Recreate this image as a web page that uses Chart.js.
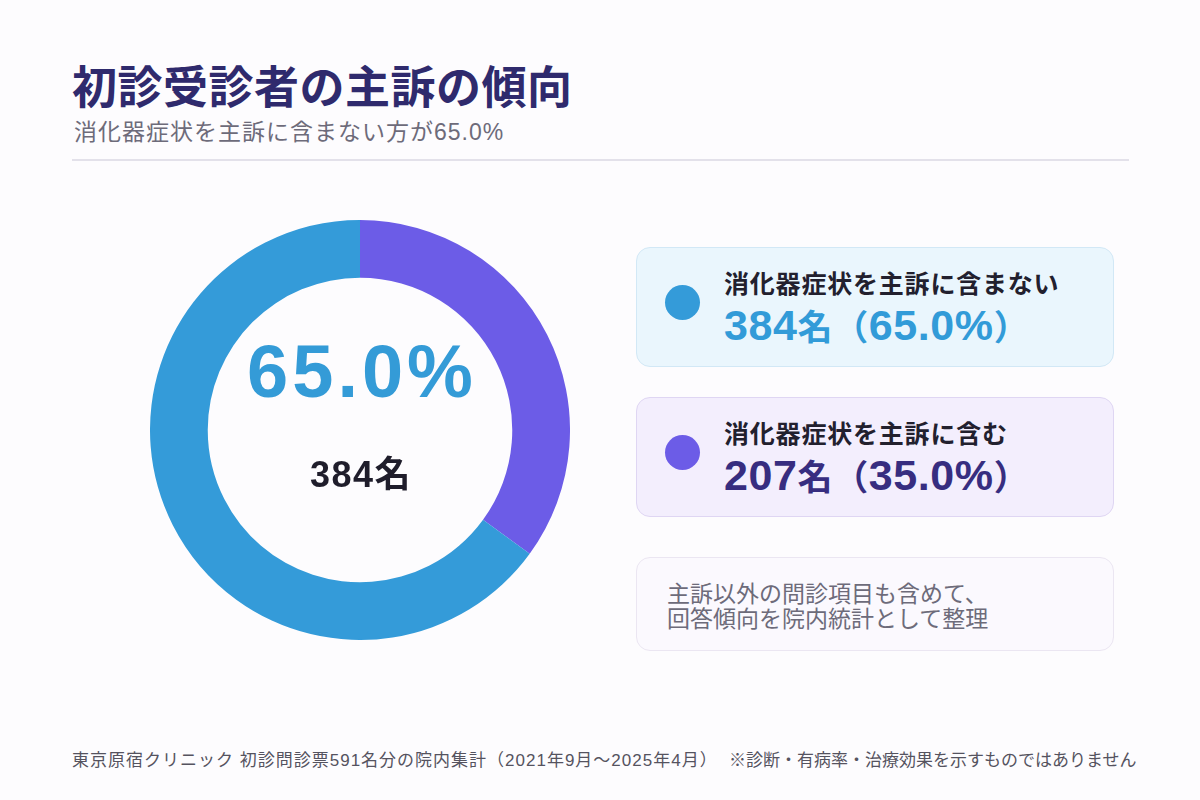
<!DOCTYPE html>
<html lang="ja">
<head>
<meta charset="utf-8">
<script src="https://cdn.jsdelivr.net/npm/chart.js@4"></script>
<style>
  html, body { margin:0; padding:0; }
  body { width:1200px; height:800px; position:relative; overflow:hidden;
    background:#fdfcfe; font-family:"Noto Sans CJK JP","Noto Sans",sans-serif; }
  .title { position:absolute; left:72px; top:52px; font-size:45px; font-weight:700; color:#2f2a6d; letter-spacing:0.5px; }
  .sub { position:absolute; left:74px; top:115px; font-size:23px; line-height:34px; color:#6d6b7a; letter-spacing:1px;
    font-family:"Liberation Sans","Noto Sans CJK JP",sans-serif; }
  .rule { position:absolute; left:72px; top:159px; width:1057px; height:2px; background:#e3e1ea; }
  .chartbox { position:absolute; left:150px; top:220px; width:420px; height:420px; }
  .center1 { position:absolute; left:150px; width:424px; top:327px; line-height:90px; text-align:center;
    font-family:"Liberation Sans",sans-serif; font-size:74px; font-weight:700; color:#349bd7; letter-spacing:4px; }
  .center2 { position:absolute; left:150px; width:422px; top:453px; line-height:44px; text-align:center;
    font-family:"Liberation Sans","Noto Sans CJK JP",sans-serif; font-size:36px; font-weight:700; color:#1f1d2b; letter-spacing:1.5px; }
  .card { position:absolute; left:636px; width:478px; border-radius:14px; box-sizing:border-box; }
  .dot { position:absolute; left:28px; top:37px; width:35px; height:35px; border-radius:50%; }
  .lab { position:absolute; left:87px; top:19px; line-height:30px; font-size:25px; font-weight:700; color:#22202e; letter-spacing:0.8px; }
  .val { position:absolute; left:87px; top:55px; line-height:44px; white-space:nowrap; letter-spacing:0.6px;
    font-family:"Liberation Sans","Noto Sans CJK JP",sans-serif; font-size:43px; font-weight:700; }
  .val span { font-family:"Noto Sans CJK JP",sans-serif; font-size:35px; }
  .note { position:absolute; left:30px; font-size:23px; line-height:25px; color:#6d6b7a; white-space:nowrap; }
  .foot { position:absolute; top:750px; font-size:17px; line-height:22px; color:#55535f;
    font-family:"Liberation Sans","Noto Sans CJK JP",sans-serif; white-space:nowrap; }
</style>
</head>
<body>
<div class="title">初診受診者の主訴の傾向</div>
<div class="sub">消化器症状を主訴に含まない方が65.0%</div>
<div class="rule"></div>

<div class="chartbox"><canvas id="donut" width="420" height="420"></canvas></div>
<div class="center1" id="c1"></div>
<div class="center2" id="c2"></div>

<div class="card" style="top:247px;height:120px;background:#eaf6fd;border:1px solid #d2e8f6;">
  <div class="dot" id="d0"></div>
  <div class="lab" id="l0"></div>
  <div class="val" id="v0" style="color:#329bd8;"></div>
</div>
<div class="card" style="top:397px;height:120px;background:#f3eefd;border:1px solid #dfd6f3;">
  <div class="dot" id="d1"></div>
  <div class="lab" id="l1"></div>
  <div class="val" id="v1" style="color:#372d80;"></div>
</div>
<div class="card" style="top:557px;height:94px;background:#fbf9fe;border:1px solid #ebe6f2;">
  <div class="note" style="top:22px;">主訴以外の問診項目も含めて、</div>
  <div class="note" style="top:47px;">回答傾向を院内統計として整理</div>
</div>

<div class="foot" style="left:72px;letter-spacing:1px;">東京原宿クリニック 初診問診票591名分の院内集計（2021年9月〜2025年4月）</div>
<div class="foot" style="left:729px;">※診断・有病率・治療効果を示すものではありません</div>

<script>
// data: purple first so it starts at 12 o'clock
const labels = ['消化器症状を主訴に含む', '消化器症状を主訴に含まない']
const counts = [207, 384]
const percents = [35.0, 65.0]
const colors = ['#6c5ce7', '#349bd9']

new Chart(document.getElementById('donut').getContext('2d'), {
  type: 'doughnut',
  data: {
    labels: labels,
    datasets: [{
      data: counts,
      backgroundColor: colors,
      borderWidth: 0,
      hoverOffset: 0
    }]
  },
  options: {
    responsive: false,
    animation: false,
    cutout: '72.5%',
    rotation: 0,
    layout: { padding: 0 },
    plugins: { legend: { display: false }, tooltip: { enabled: false } }
  }
})

document.getElementById('c1').innerText = percents[1].toFixed(1) + '%'
document.getElementById('c2').innerText = counts[1] + '名'

// cards: top = not included (index 1), second = included (index 0)
const order = [1, 0]
order.forEach((k, i) => {
  document.getElementById('d' + i).style.background = colors[k]
  document.getElementById('l' + i).innerText = labels[k]
  document.getElementById('v' + i).innerHTML =
    counts[k] + '<span>名（</span>' + percents[k].toFixed(1) + '%<span>）</span>'
})
</script>
</body>
</html>
